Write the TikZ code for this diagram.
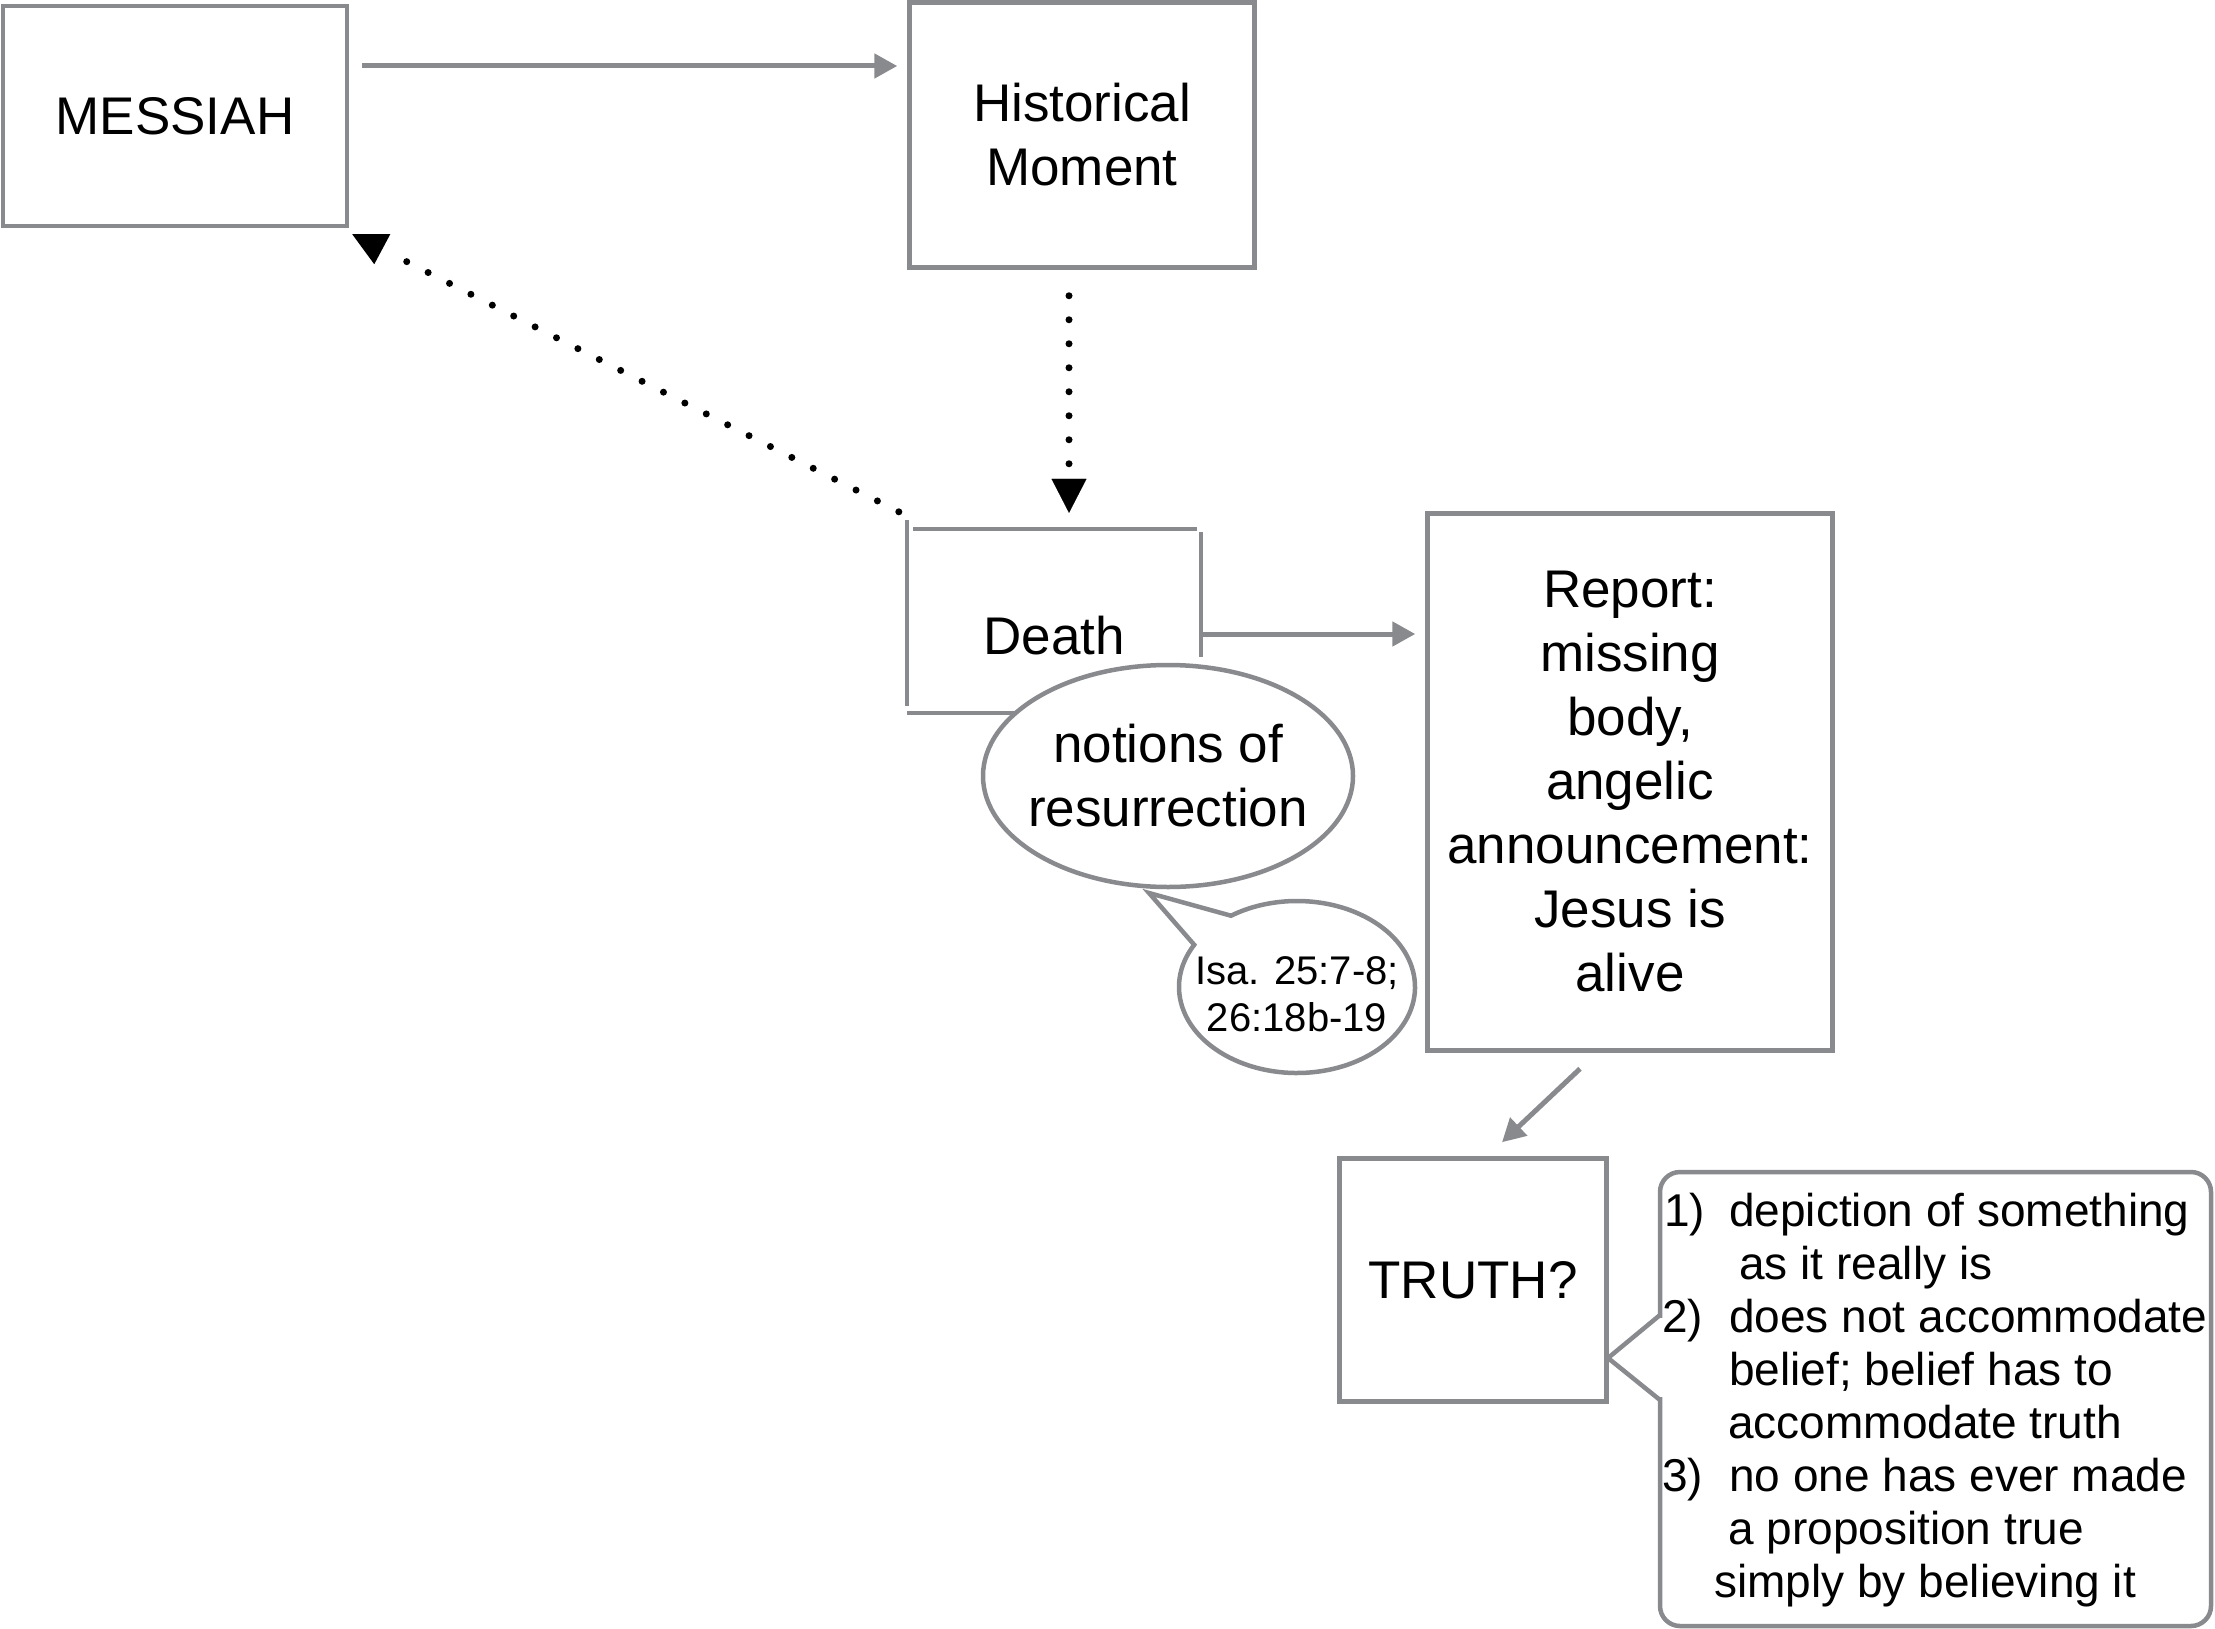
\documentclass[tikz,border=0pt]{standalone}
\usepackage{fontspec}
\setmainfont{Liberation Sans}
\usetikzlibrary{arrows.meta,calc,shapes.geometric}
\definecolor{lgray}{RGB}{137,138,142}
\newcommand\dgbig{\fontsize{53}{64}\selectfont}
\newcommand\dgmid{\fontsize{46}{53}\selectfont}
\newcommand\dgsmall{\fontsize{40}{47}\selectfont}
\begin{document}
\begin{tikzpicture}[x=1pt,y=-1pt,
  box/.style={draw=lgray, line width=4.5pt, inner sep=0pt, align=center, font=\dgbig, fill=white},
  seg/.style={draw=lgray, line width=4.5pt},
  bubble/.style={draw=lgray, line width=4.5pt, fill=white, line join=miter},
  garrow/.style={draw=lgray, line width=5pt, -{Triangle[length=23pt,width=24pt]}},
  dotline/.style={line width=7pt, line cap=round, dash pattern=on 0pt off 24pt},
  dotarrow/.style={dotline, -{Triangle[length=34pt,width=35pt,line width=0.1pt]}},
  cline/.style={anchor=base west, inner sep=0pt, font=\dgmid},
  txt/.style={inner sep=0pt, align=center, font=\dgbig}]
\useasboundingbox (0,0) rectangle (2215,1629);

% boxes
\node[box, minimum width=344pt, minimum height=220pt] (messiah) at (175,116) {MESSIAH};
\node[box, minimum width=345pt, minimum height=265pt] (hist) at (1082,135) {Historical\\Moment};
\node[box, minimum width=405pt, minimum height=537pt] (report) at (1630,782) {Report:\\missing\\body,\\angelic\\announcement:\\Jesus is\\alive};
\node[box, minimum width=267pt, minimum height=243pt] (truth) at (1473,1280) {TRUTH?};

% Death box (drawn as loose segments)
\node[inner sep=0pt, minimum width=294pt, minimum height=184pt] (death) at (1054,621) {};
\draw[seg] (907,520) -- (907,706);
\draw[seg] (913,529) -- (1197,529);
\draw[seg] (1201,532) -- (1201,657);
\draw[seg] (907,713) -- (1040,713);
\node[txt] (deathlabel) at (1054,636) {Death};

% notions ellipse
\coordinate (notc) at (1168,776);
\draw[bubble] (notc) ellipse [x radius=185, y radius=111];
\node[txt] (notions) at (1168,776) {notions of\\resurrection};

% Isa speech bubble
\coordinate (isac) at (1297,987);
\draw[bubble] (1149,893) -- ($(isac)+(209.4:118 and 86)$)
  arc[start angle=209.4, end angle=-124, x radius=118, y radius=86] -- cycle;
\node[inner sep=0pt, align=center, font=\dgsmall] (isa) at (1297,994) {Isa. 25:7-8;\\26:18b-19};

% callout box
\draw[bubble, rounded corners=20pt] (1660,1172) rectangle (2211,1626);
\fill[white] (1656,1318) rectangle (1664,1397);
\draw[seg, line join=miter] (1660,1315) -- (1608,1358) -- (1660,1400);

\node[cline] (n1) at (1664,1226) {1)};
\node[cline] (l1) at (1729,1226) {depiction of something};
\node[cline] (l2) at (1739,1279) {as it really is};
\node[cline] (n2) at (1662,1332) {2)};
\node[cline] (l3) at (1729,1332) {does not accommodate};
\node[cline] (l4) at (1729,1385) {belief; belief has to};
\node[cline] (l5) at (1728,1438) {accommodate truth};
\node[cline] (n3) at (1662,1491) {3)};
\node[cline] (l6) at (1729,1491) {no one has ever made};
\node[cline] (l7) at (1728,1544) {a proposition true};
\node[cline] (l8) at (1714,1597) {simply by believing it};

% connectors
\coordinate (a1) at ([xshift=13pt,yshift=50pt]messiah.east);
\draw[garrow, shorten >=10pt] (a1) -- (a1 -| hist.west);

\coordinate (a2) at ([yshift=-13pt]death.east);
\draw[garrow, shorten >=10pt] (a2) -- (a2 -| report.west);

\draw[garrow] ([shift={(-50,16)}]report.south) -- ([shift={(29,-14)}]truth.north);

\coordinate (v1) at ([xshift=-13pt,yshift=-26pt]hist.south);
\draw[dotarrow, shorten >=16pt] (v1) -- (v1 |- death.north);

\coordinate (d1) at ([shift={(-8,-17)}]death.north west);
\coordinate (m1) at ([shift={(39,24)}]messiah.south east);
\draw[dotline] (d1) -- (m1);
\fill ([shift={(3,6)}]messiah.south east) -- ([shift={(41,6)}]messiah.south east) -- ([shift={(25,36)}]messiah.south east) -- cycle;
\end{tikzpicture}
\end{document}
